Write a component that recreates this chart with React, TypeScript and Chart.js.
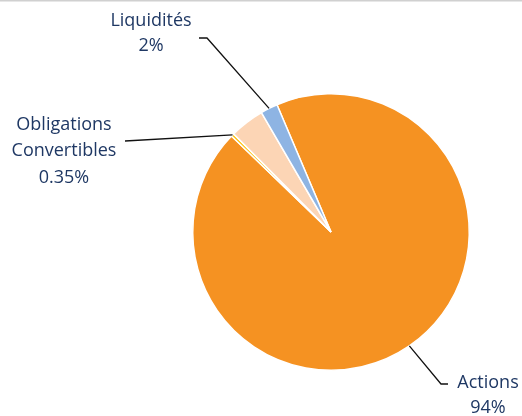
import React, { useEffect, useRef } from "react";
import { Chart, registerables } from "chart.js";

Chart.register(...registerables);

const categories = ["Actions", "Obligations Convertibles", "Autres", "Liquidités"];
const values = [93.6, 0.35, 4.05, 2.0];
const valueLabels = ["94%", "0.35%", "", "2%"];
const colors = ["#F59222", "#FFC000", "#FCD5B5", "#8EB4E3"];

// label layout (pixel placement of annotations), keyed by category index
const labelLayout: Record<number, { lines: string[]; x: number; baselines: number[]; path: [number, number][] }> = {
  3: { lines: ["Liquidités", "2%"], x: 151, baselines: [26, 51], path: [[207, 38], [199, 38]] },
  1: { lines: ["Obligations", "Convertibles", "0.35%"], x: 64, baselines: [130, 156, 183], path: [[125, 141]] },
  0: { lines: ["Actions", "94%"], x: 488, baselines: [388, 413], path: [[441, 384], [448, 384]] },
};

const labelPlugin = {
  id: "pieLabels",
  afterDraw(chart: any) {
    const ctx = chart.ctx as CanvasRenderingContext2D;
    ctx.save();
    // top border line
    ctx.strokeStyle = "#D0D0D0";
    ctx.lineWidth = 1.5;
    ctx.beginPath();
    ctx.moveTo(0, 0.75);
    ctx.lineTo(chart.width, 0.75);
    ctx.stroke();

    const meta = chart.getDatasetMeta(0);
    Object.keys(labelLayout).forEach((k) => {
      const i = Number(k);
      const cfg = labelLayout[i];
      const arc = meta.data[i] as any;
      const p = arc.getProps(["x", "y", "startAngle", "endAngle", "outerRadius"], true);
      const mid = (p.startAngle + p.endAngle) / 2;
      const sx = p.x + Math.cos(mid) * p.outerRadius;
      const sy = p.y + Math.sin(mid) * p.outerRadius;
      ctx.strokeStyle = "#111111";
      ctx.lineWidth = 1.3;
      ctx.beginPath();
      ctx.moveTo(sx, sy);
      cfg.path.forEach(([x, y]) => ctx.lineTo(x, y));
      ctx.stroke();

      ctx.fillStyle = "#1F3864";
      ctx.font = "18px 'Open Sans'";
      ctx.textAlign = "center";
      ctx.textBaseline = "alphabetic";
      cfg.lines.forEach((t, j) => ctx.fillText(t, cfg.x, cfg.baselines[j]));
    });
    ctx.restore();
  },
};

export default function App() {
  const ref = useRef<HTMLCanvasElement>(null);
  useEffect(() => {
    if (!ref.current) return;
    const chart = new Chart(ref.current, {
      type: "pie",
      data: {
        labels: categories,
        datasets: [
          {
            data: values,
            backgroundColor: colors,
            borderColor: "#FFFFFF",
            borderWidth: 1.5,
          },
        ],
      },
      options: {
        responsive: false,
        animation: false,
        rotation: -23,
        layout: { padding: { left: 189, right: 49, top: 93, bottom: 45 } },
        plugins: {
          legend: { display: false },
          tooltip: { enabled: false },
        },
      },
      plugins: [labelPlugin],
    });
    return () => chart.destroy();
  }, []);
  return (
    <div style={{ position: "fixed", left: 0, top: 0, width: 522, height: 416, background: "#fff" }}>
      <canvas ref={ref} width={522} height={416} style={{ width: 522, height: 416, display: "block" }} />
    </div>
  );
}
